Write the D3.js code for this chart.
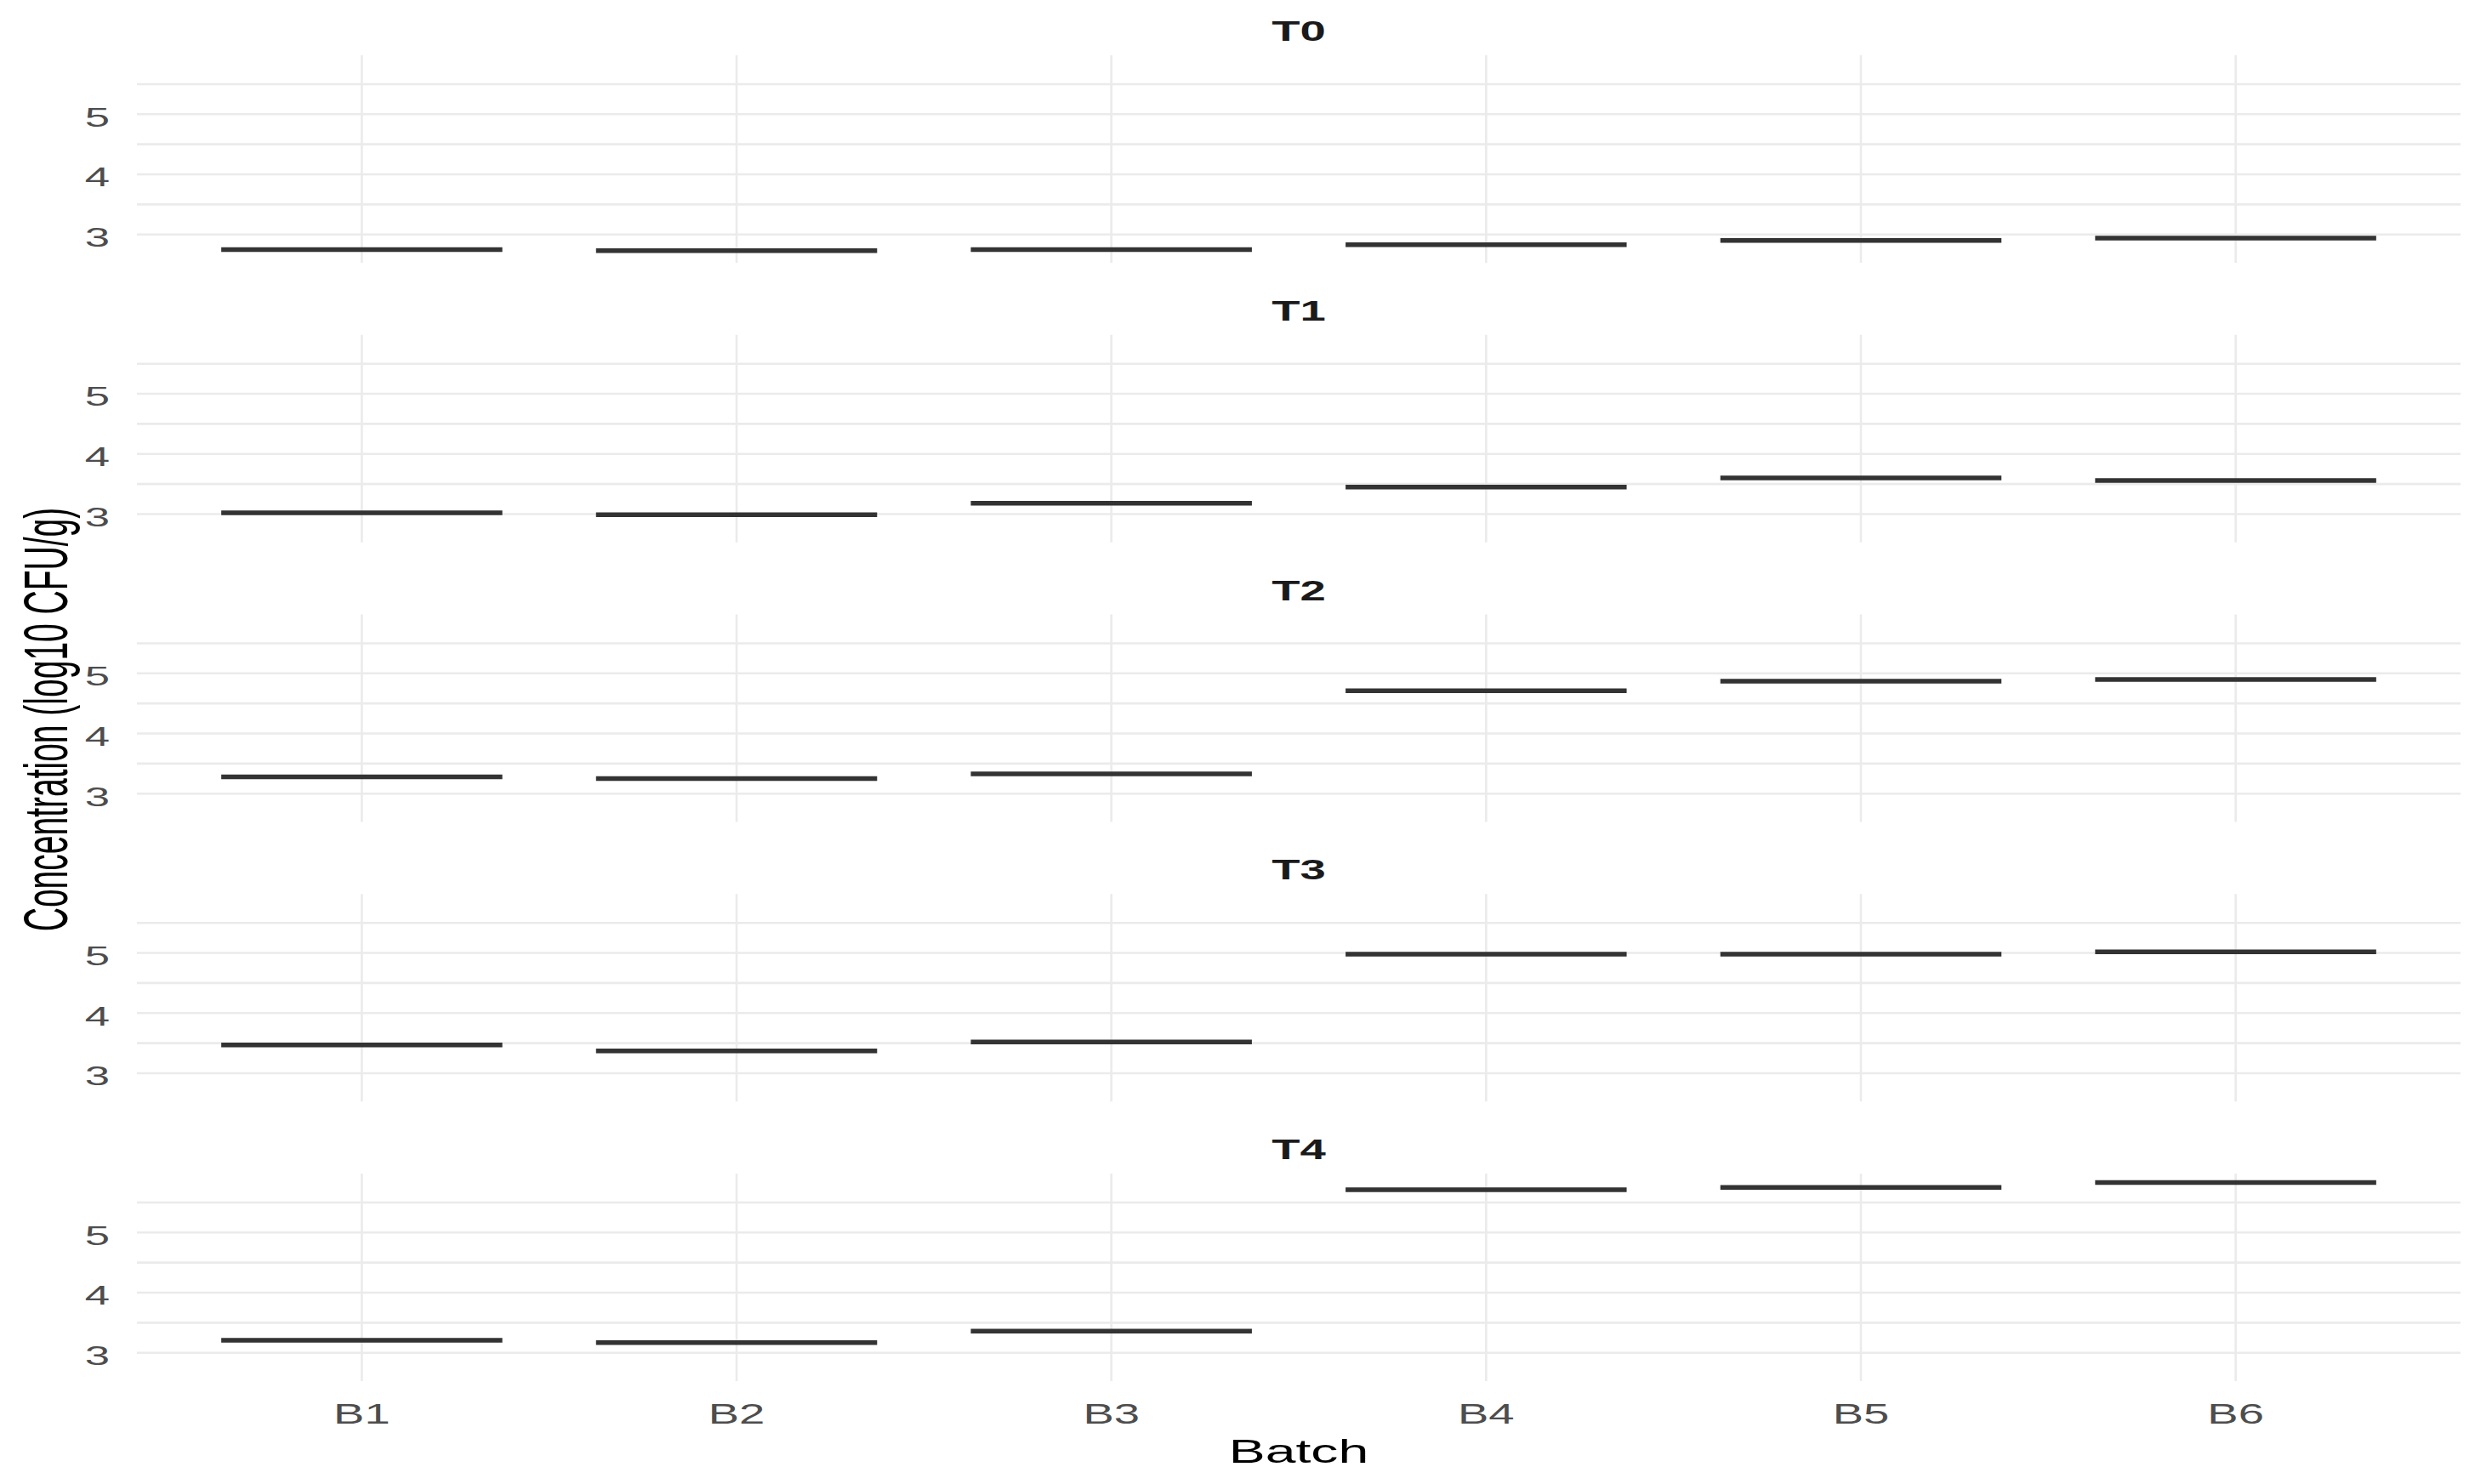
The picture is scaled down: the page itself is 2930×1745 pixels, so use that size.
<!DOCTYPE html>
<html>
<head>
<meta charset="utf-8">
<script src="https://cdn.jsdelivr.net/npm/d3@7"></script>
<style>
  html, body { margin: 0; padding: 0; background: #ffffff; }
  svg { display: block; }
  text { font-family: "Liberation Sans", Arial, sans-serif; }
</style>
</head>
<body>
<svg id="chart" width="2930" height="1745"></svg>
<script>
// ---------- data ----------
const timepoints = ["T0", "T1", "T2", "T3", "T4"];
const batches = ["B1", "B2", "B3", "B4", "B5", "B6"];
const valuesT0 = [2.75, 2.73, 2.75, 2.83, 2.90, 2.94];
const valuesT1 = [3.02, 2.99, 3.18, 3.45, 3.60, 3.56];
const valuesT2 = [3.28, 3.25, 3.33, 4.71, 4.87, 4.90];
const valuesT3 = [3.47, 3.37, 3.52, 4.98, 4.98, 5.02];
const valuesT4 = [3.21, 3.17, 3.36, 5.71, 5.75, 5.83];
const yMajorTicks = [3, 4, 5];
const yMinorTicks = [3.5, 4.5, 5.5];
const yDomain = [2.53, 5.98];
const xTitle = "Batch";
const yTitle = "Concentration (log10 CFU/g)";

const seriesByTime = [valuesT0, valuesT1, valuesT2, valuesT3, valuesT4];
const rows = [];
timepoints.forEach((t, i) => {
  batches.forEach((b, j) => rows.push({ time: t, batch: b, value: seriesByTime[i][j] }));
});

// ---------- layout ----------
const svg = d3.select("#chart");
const panelLeft = 161, panelRight = 2893;
const firstTop = 65, pitch = 328.75, panelH = 244;
const sx = 1.65;       // horizontal glyph stretch seen in the reference
const gridColor = "#ebebeb";

const x = d3.scalePoint().domain(batches).range([panelLeft, panelRight]).padding(0.6);
const step = x.step();
const barW = step * 0.75;

const panelY = d3.scaleBand().domain(timepoints)
  .range([firstTop, firstTop + pitch * timepoints.length]).paddingInner(0).paddingOuter(0);

timepoints.forEach((t, i) => {
  const top = panelY(t);
  const y = d3.scaleLinear().domain(yDomain).range([top + panelH, top]);
  const g = svg.append("g").attr("class", "panel");

  // horizontal grid (minor + major)
  g.selectAll("line.minor").data(yMinorTicks).join("line")
    .attr("x1", panelLeft).attr("x2", panelRight)
    .attr("y1", d => y(d)).attr("y2", d => y(d))
    .attr("stroke", gridColor).attr("stroke-width", 2.6);
  g.selectAll("line.major").data(yMajorTicks).join("line")
    .attr("x1", panelLeft).attr("x2", panelRight)
    .attr("y1", d => y(d)).attr("y2", d => y(d))
    .attr("stroke", gridColor).attr("stroke-width", 2.6);
  // vertical grid
  g.selectAll("line.vx").data(batches).join("line")
    .attr("x1", d => x(d)).attr("x2", d => x(d))
    .attr("y1", top).attr("y2", top + panelH)
    .attr("stroke", gridColor).attr("stroke-width", 2.6);

  // y tick labels
  g.selectAll("text.yt").data(yMajorTicks).join("text")
    .attr("transform", d => `translate(129,${y(d)}) scale(${sx},1)`)
    .attr("dy", "0.45em")
    .attr("text-anchor", "end")
    .attr("font-size", 32)
    .attr("fill", "#4d4d4d")
    .text(d => d3.format("d")(d));

  // strip label
  g.append("text")
    .attr("transform", `translate(${(panelLeft + panelRight) / 2},${top - 17}) scale(${sx},1)`)
    .attr("text-anchor", "middle")
    .attr("font-size", 33)
    .attr("font-weight", "bold")
    .attr("fill", "#1a1a1a")
    .text(t);

  // crossbar lines
  g.selectAll("line.bar").data(rows.filter(r => r.time === t)).join("line")
    .attr("x1", d => x(d.batch) - barW / 2).attr("x2", d => x(d.batch) + barW / 2)
    .attr("y1", d => y(d.value)).attr("y2", d => y(d.value))
    .attr("stroke", "#333333").attr("stroke-width", 5.5);
});

// x tick labels (bottom panel only)
const lastBottom = panelY(timepoints[timepoints.length - 1]) + panelH;
svg.selectAll("text.xt").data(batches).join("text")
  .attr("transform", d => `translate(${x(d)},${lastBottom + 50}) scale(${sx},1)`)
  .attr("text-anchor", "middle")
  .attr("font-size", 33)
  .attr("fill", "#4d4d4d")
  .text(d => d);

// axis titles
svg.append("text")
  .attr("transform", `translate(${(panelLeft + panelRight) / 2},1720) scale(${sx},1)`)
  .attr("text-anchor", "middle")
  .attr("font-size", 39)
  .attr("fill", "#000000")
  .text(xTitle);

svg.append("text")
  .attr("transform", `translate(79,846) scale(1.85,1) rotate(-90)`)
  .attr("text-anchor", "middle")
  .attr("font-size", 39)
  .attr("fill", "#000000")
  .text(yTitle);
</script>
</body>
</html>
